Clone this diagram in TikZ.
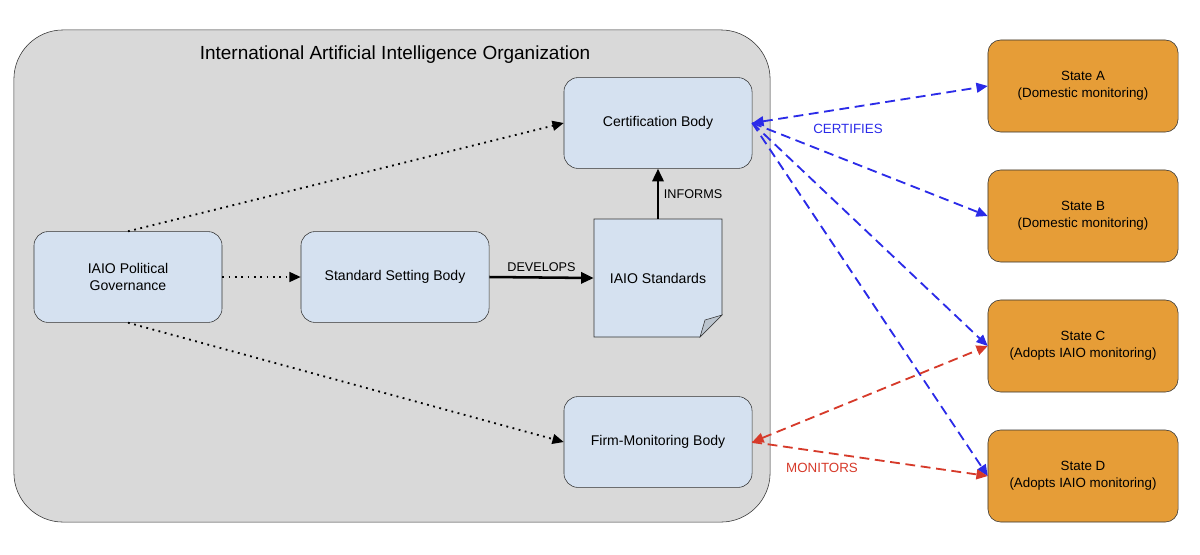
\documentclass[tikz,border=0pt]{standalone}
\usepackage{fontspec}
\setmainfont{Liberation Sans}
\usetikzlibrary{arrows.meta, shapes.misc}
\definecolor{boxblue}{HTML}{D5E1F0}
\definecolor{stateorange}{HTML}{E69D37}
\definecolor{orggray}{HTML}{D9D9D9}
\definecolor{certblue}{HTML}{2B2BE8}
\definecolor{monred}{HTML}{D63A2A}
\tikzstyle{body} = [font=\fontsize{10}{12}\selectfont, rectangle, rounded corners=10pt, minimum width=4.7cm, minimum height=2.27cm, align=center, draw=black!80, fill=boxblue]
\tikzstyle{state} = [font=\fontsize{9.5}{12}\selectfont, rectangle, rounded corners=9pt, minimum width=4.75cm, minimum height=2.3cm, align=center, draw=black!80, fill=stateorange]
\tikzstyle{dots} = [line width=1.3pt, dash pattern=on 1.3pt off 3.2pt, -{Triangle[length=8pt,width=7pt]}]
\tikzstyle{solid arrow} = [line width=1.8pt, -{Triangle[length=9pt,width=8pt]}]
\tikzstyle{certifies} = [line width=1.3pt, certblue, dash pattern=on 7pt off 4pt, -{Triangle[length=8pt,width=7pt]}]
\tikzstyle{monitors} = [line width=1.3pt, monred, dash pattern=on 7pt off 4pt, -{Triangle[length=8pt,width=7pt]}]
\tikzstyle{both} = [{Triangle[length=8pt,width=7pt]}-{Triangle[length=8pt,width=7pt]}]
\begin{document}
\begin{tikzpicture}[x=0.025cm, y=-0.025cm]
  \useasboundingbox (0,0) rectangle (1200,554);
  % organization
  \node (org) [draw=black!80, fill=orggray, rounded corners=35pt, minimum width=18.9cm, minimum height=12.3cm] at (392,276) {};
  \node (title) [font=\fontsize{13.5}{16}\selectfont] at (395,55) {International Artificial Intelligence Organization};
  % bodies
  \node (cert) [body] at (658,123) {Certification Body};
  \node (gov) [body] at (128,277) {IAIO Political\\Governance};
  \node (ssb) [body] at (395,277) {Standard Setting Body};
  \node (firm) [body] at (658,442) {Firm-Monitoring Body};
  \node (std) [font=\fontsize{10}{12}\selectfont, minimum width=3.2cm, minimum height=2.95cm] at (658,278) {IAIO Standards};
  \draw[black!80, fill=boxblue] (594,219) -- (722,219) -- (722,315) -- (700,337) -- (594,337) -- cycle;
  \draw[black!80, fill=boxblue!70!gray] (722,315) -- (705,320) -- (700,337) -- cycle;
  \node at (std) [font=\fontsize{10}{12}\selectfont] {IAIO Standards};
  % states
  \node (stA) [state] at (1083,86) {State A\\(Domestic monitoring)};
  \node (stB) [state] at (1083,216) {State B\\(Domestic monitoring)};
  \node (stC) [state] at (1083,346) {State C\\(Adopts IAIO monitoring)};
  \node (stD) [state] at (1083,476) {State D\\(Adopts IAIO monitoring)};
  % internal arrows
  \draw[dots] (gov.north) -- (cert.west);
  \draw[dots] (gov.east) -- (ssb.west);
  \draw[dots] (gov.south) -- (firm.west);
  \draw[solid arrow] (ssb.east) -- node[above, font=\fontsize{9}{11}\selectfont]{DEVELOPS} (std.west);
  \draw[solid arrow] (std.north) -- node[right, font=\fontsize{9}{11}\selectfont]{INFORMS} (cert.south);
  % certification
  \draw[certifies, both] (cert.east) -- (stA.west);
  \draw[certifies] (cert.east) -- (stB.west);
  \draw[certifies] (cert.east) -- (stC.west);
  \draw[certifies] (cert.east) -- (stD.west);
  \node (certlbl) [text=certblue, font=\fontsize{9.5}{11}\selectfont] at (848,129) {CERTIFIES};
  % monitoring
  \draw[monitors, both] (firm.east) -- (stC.west);
  \draw[monitors] (firm.east) -- (stD.west);
  \node (monlbl) [text=monred, font=\fontsize{9.5}{11}\selectfont] at (822,468) {MONITORS};
\end{tikzpicture}
\end{document}
